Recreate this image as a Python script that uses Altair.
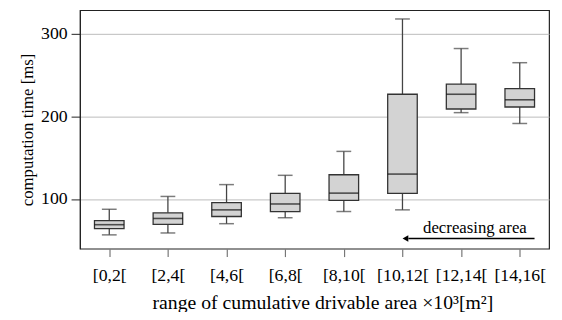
import altair as alt
import pandas as pd

cats = ["[0,2[", "[2,4[", "[4,6[", "[6,8[", "[8,10[", "[10,12[", "[12,14[", "[14,16["]
low = [56.7, 59.0, 70.2, 77.4, 84.9, 86.9, 204.3, 191.2]
q1 = [64.3, 69.4, 78.9, 84.9, 98.3, 106.7, 208.7, 211.1]
med = [69.0, 76.5, 86.9, 94.0, 107.1, 130.1, 226.5, 219.8]
q3 = [73.8, 83.3, 95.6, 106.7, 129.3, 226.5, 238.8, 233.3]
high = [87.6, 103.1, 117.4, 128.6, 157.5, 317.4, 281.7, 264.6]

y_ticks = [100, 200, 300]
y_domain = [40, 328]

arrow_from = "[14,16["
arrow_to = "[10,12["
arrow_y = 52.4
note_text = "decreasing area"
note_cat = "[12,14["
note_y = 59.5

df = pd.DataFrame({"cat": cats, "low": low, "q1": q1, "med": med, "q3": q3, "high": high})
arrow_df = pd.DataFrame({"a": [arrow_to], "b": [arrow_from], "y": [arrow_y]})
note_df = pd.DataFrame({"c": [note_cat], "y": [note_y], "t": [note_text]})

FONT = "Liberation Serif"

x = alt.X("cat:N", sort=cats, scale=alt.Scale(type="point", padding=0.5, domain=cats),
          axis=alt.Axis(title="range of cumulative drivable area ×10³[m²]", labelAngle=0,
                        tickColor="#777", tickSize=8, tickWidth=1.2, domain=False,
                        labelPadding=10, titlePadding=9, grid=False, titleX=246,
                        labelFontSize=18, titleFontSize=20))
yscale = alt.Scale(domain=y_domain, nice=False, zero=False)
y_axis = alt.Axis(title="computation time [ms]", values=y_ticks, tickSize=9, tickColor="#222",
                  domainColor="#222", grid=True, gridColor="#bbbbbb", gridWidth=1,
                  labelPadding=4, titlePadding=4, labelFontSize=18, titleFontSize=17)

base = alt.Chart(df)

whisk_lo = base.mark_rule(color="#444", strokeWidth=1.3).encode(
    x=x, y=alt.Y("low:Q", scale=yscale, axis=y_axis), y2="q1:Q")
whisk_hi = base.mark_rule(color="#444", strokeWidth=1.3).encode(
    x=alt.X("cat:N", sort=cats), y=alt.Y("q3:Q", scale=yscale), y2="high:Q")
cap_lo = base.mark_tick(color="#444", size=15, thickness=1.5, orient="horizontal").encode(
    x=alt.X("cat:N", sort=cats), y=alt.Y("low:Q", scale=yscale))
cap_hi = base.mark_tick(color="#444", size=15, thickness=1.5, orient="horizontal").encode(
    x=alt.X("cat:N", sort=cats), y=alt.Y("high:Q", scale=yscale))
boxes = base.mark_bar(size=30, fill="#d3d3d3", stroke="#333", strokeWidth=1.3).encode(
    x=alt.X("cat:N", sort=cats), y=alt.Y("q1:Q", scale=yscale), y2="q3:Q")
medians = base.mark_tick(color="#111", size=30, thickness=1.6, orient="horizontal").encode(
    x=alt.X("cat:N", sort=cats), y=alt.Y("med:Q", scale=yscale))

arrow = alt.Chart(arrow_df).mark_rule(color="black", strokeWidth=1.6, x2Offset=15, xOffset=6).encode(
    x=alt.X("a:N", sort=cats), x2="b:N", y=alt.Y("y:Q", scale=yscale))
head = alt.Chart(arrow_df).mark_point(shape="triangle-left", filled=True, color="black",
                                      size=45, opacity=1, xOffset=3).encode(
    x=alt.X("a:N", sort=cats), y=alt.Y("y:Q", scale=yscale))
note = alt.Chart(note_df).mark_text(font=FONT, fontSize=17, dx=14, baseline="alphabetic",
                                    color="black").encode(
    x=alt.X("c:N", sort=cats), y=alt.Y("y:Q", scale=yscale), text="t:N")

chart = alt.layer(whisk_lo, whisk_hi, cap_lo, cap_hi, boxes, medians, arrow, head, note).properties(
    width=476, height=242,
    autosize=alt.AutoSizeParams(type="none"),
    padding={"left": 73, "top": 0, "right": 5, "bottom": 62},
).configure_view(stroke="#222", strokeWidth=1.2).configure_axis(
    labelFont=FONT, titleFont=FONT,
    titleFontWeight="normal", labelColor="black", titleColor="black"
)

chart.save("out.html", embed_options={"renderer": "svg", "actions": False})
